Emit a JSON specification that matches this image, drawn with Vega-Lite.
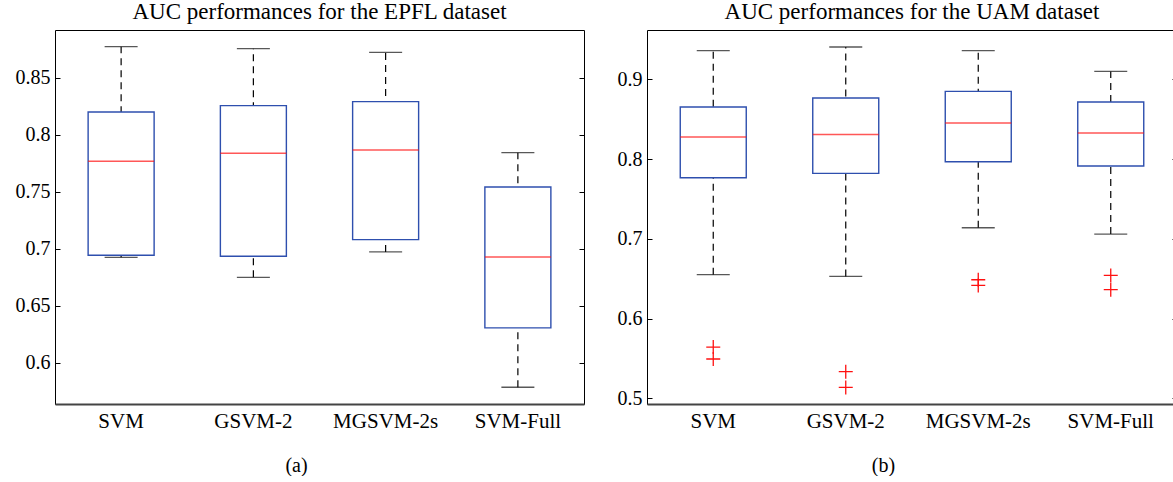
{
  "$schema": "https://vega.github.io/schema/vega-lite/v6.json",
  "padding": {"left": 5, "top": 0, "right": 0, "bottom": 0},
  "background": "white",
  "spacing": 12,
  "config": {
    "font": "Liberation Serif",
    "view": {"stroke": "black", "strokeWidth": 1},
    "title": {"font": "Liberation Serif", "fontSize": 23, "fontWeight": "normal", "color": "black", "offset": 6},
    "axis": {"labelFont": "Liberation Serif", "titleFont": "Liberation Serif", "labelColor": "black", "titleColor": "black", "tickColor": "black", "grid": false}
  },
  "datasets": {
    "epfl": [
      {"method": "SVM", "lower": 0.6925, "q1": 0.6943, "median": 0.7768, "q3": 0.8201, "upper": 0.8775},
      {"method": "GSVM-2", "lower": 0.6749, "q1": 0.6934, "median": 0.7838, "q3": 0.8257, "upper": 0.8757},
      {"method": "MGSVM-2s", "lower": 0.6972, "q1": 0.7080, "median": 0.7868, "q3": 0.8292, "upper": 0.8725},
      {"method": "SVM-Full", "lower": 0.5784, "q1": 0.6305, "median": 0.6928, "q3": 0.7543, "upper": 0.7844}
    ],
    "uam": [
      {"method": "SVM", "lower": 0.6551, "q1": 0.7767, "median": 0.8278, "q3": 0.8654, "upper": 0.936},
      {"method": "GSVM-2", "lower": 0.653, "q1": 0.7821, "median": 0.831, "q3": 0.8767, "upper": 0.9406},
      {"method": "MGSVM-2s", "lower": 0.714, "q1": 0.7968, "median": 0.8453, "q3": 0.885, "upper": 0.936},
      {"method": "SVM-Full", "lower": 0.7061, "q1": 0.7914, "median": 0.8328, "q3": 0.8717, "upper": 0.910}
    ],
    "uamOut": [
      {"method": "SVM", "value": 0.5644},
      {"method": "SVM", "value": 0.5494},
      {"method": "GSVM-2", "value": 0.5335},
      {"method": "GSVM-2", "value": 0.5138},
      {"method": "MGSVM-2s", "value": 0.6488},
      {"method": "MGSVM-2s", "value": 0.6417},
      {"method": "SVM-Full", "value": 0.6542},
      {"method": "SVM-Full", "value": 0.6363}
    ]
  },
  "hconcat": [
    {
      "width": 529,
      "height": 374,
      "title": {"text": "AUC performances for the EPFL dataset"},
      "data": {"name": "epfl"},
      "resolve": {"scale": {"y": "shared"}, "axis": {"y": "independent"}},
      "encoding": {
        "x": {
          "field": "method", "type": "nominal",
          "sort": ["SVM", "GSVM-2", "MGSVM-2s", "SVM-Full"],
          "scale": {"paddingInner": 0, "paddingOuter": 0},
          "axis": {"labelAngle": 0, "ticks": false, "domain": true, "domainColor": "#444", "domainWidth": 2, "labelFont": "Liberation Serif", "labelFontSize": 21, "labelPadding": 6, "title": "(a)", "titleFont": "Liberation Serif", "titleFontSize": 20, "titleFontWeight": "normal", "titleX": 241, "titleY": 61, "titleBaseline": "middle", "titleAnchor": "middle"}
        }
      },
      "layer": [
        {
          "mark": {"type": "rule", "strokeDash": [7, 5], "color": "black", "strokeWidth": 1.2},
          "encoding": {
            "y": {"field": "lower", "type": "quantitative", "scale": {"domain": [0.5637, 0.8921], "nice": false, "zero": false},
              "axis": {"orient": "left", "values": [0.6, 0.65, 0.7, 0.75, 0.8, 0.85], "format": ".2~f", "tickSize": -5, "labelPadding": 10, "domain": false, "labelFont": "Liberation Serif", "labelFontSize": 20, "minExtent": 49, "maxExtent": 49, "title": null}},
            "y2": {"field": "upper"}
          }
        },
        {
          "mark": {"type": "tick", "color": "#111", "size": 33, "thickness": 1.3},
          "encoding": {"y": {"field": "upper", "type": "quantitative", "axis": null}}
        },
        {
          "mark": {"type": "tick", "color": "#111", "size": 33, "thickness": 1.3},
          "encoding": {"y": {"field": "lower", "type": "quantitative", "axis": null}}
        },
        {
          "mark": {"type": "bar", "size": 66, "fill": "white", "stroke": "#2e4fae", "strokeWidth": 1.4},
          "encoding": {"y": {"field": "q1", "type": "quantitative", "axis": null}, "y2": {"field": "q3"}}
        },
        {
          "mark": {"type": "tick", "color": "#ff1010", "size": 66, "thickness": 1.5},
          "encoding": {"y": {"field": "median", "type": "quantitative",
            "axis": {"orient": "right", "values": [0.6, 0.65, 0.7, 0.75, 0.8, 0.85], "labels": false, "domain": false, "tickSize": -5, "minExtent": 0, "maxExtent": 0, "title": null}}}
        }
      ]
    },
    {
      "width": 530,
      "height": 374,
      "title": {"text": "AUC performances for the UAM dataset"},
      "data": {"name": "uam"},
      "resolve": {"scale": {"y": "shared"}, "axis": {"y": "independent"}},
      "encoding": {
        "x": {
          "field": "method", "type": "nominal",
          "sort": ["SVM", "GSVM-2", "MGSVM-2s", "SVM-Full"],
          "scale": {"paddingInner": 0, "paddingOuter": 0},
          "axis": {"labelAngle": 0, "ticks": false, "domain": true, "domainColor": "#444", "domainWidth": 2, "labelFont": "Liberation Serif", "labelFontSize": 21, "labelPadding": 6, "title": "(b)", "titleFont": "Liberation Serif", "titleFontSize": 20, "titleFontWeight": "normal", "titleX": 236, "titleY": 61, "titleBaseline": "middle", "titleAnchor": "middle"}
        }
      },
      "layer": [
        {
          "mark": {"type": "rule", "strokeDash": [7, 5], "color": "black", "strokeWidth": 1.2},
          "encoding": {
            "y": {"field": "lower", "type": "quantitative", "scale": {"domain": [0.493, 0.9619], "nice": false, "zero": false},
              "axis": {"orient": "left", "values": [0.5, 0.6, 0.7, 0.8, 0.9], "format": ".1~f", "tickSize": -5, "labelPadding": 10, "domain": false, "labelFont": "Liberation Serif", "labelFontSize": 20, "minExtent": 49, "maxExtent": 49, "title": null}},
            "y2": {"field": "upper"}
          }
        },
        {
          "mark": {"type": "tick", "color": "#111", "size": 33, "thickness": 1.3},
          "encoding": {"y": {"field": "upper", "type": "quantitative", "axis": null}}
        },
        {
          "mark": {"type": "tick", "color": "#111", "size": 33, "thickness": 1.3},
          "encoding": {"y": {"field": "lower", "type": "quantitative", "axis": null}}
        },
        {
          "mark": {"type": "bar", "size": 66, "fill": "white", "stroke": "#2e4fae", "strokeWidth": 1.4},
          "encoding": {"y": {"field": "q1", "type": "quantitative", "axis": null}, "y2": {"field": "q3"}}
        },
        {
          "mark": {"type": "tick", "color": "#ff1010", "size": 66, "thickness": 1.5},
          "encoding": {"y": {"field": "median", "type": "quantitative",
            "axis": {"orient": "right", "values": [0.5, 0.6, 0.7, 0.8, 0.9], "labels": false, "domain": false, "tickSize": -5, "minExtent": 0, "maxExtent": 0, "title": null}}}
        },
        {
          "data": {"name": "uamOut"},
          "mark": {"type": "point", "shape": "M-1,0H1M0,-1V1", "size": 196, "filled": false, "stroke": "#ff1010", "strokeWidth": 1.3, "opacity": 1},
          "encoding": {"y": {"field": "value", "type": "quantitative", "axis": null}}
        }
      ]
    }
  ]
}
